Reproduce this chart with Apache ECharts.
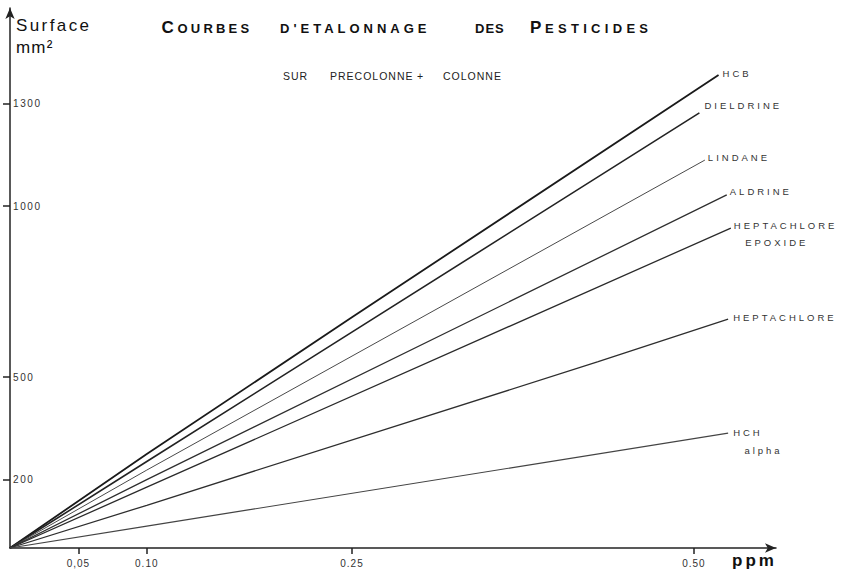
<!DOCTYPE html>
<html>
<head>
<meta charset="utf-8">
<script src="https://cdn.jsdelivr.net/npm/echarts@6/dist/echarts.min.js"></script>
<style>
html, body { margin: 0; padding: 0; background: #ffffff; }
#main { width: 844px; height: 575px; }
</style>
</head>
<body>
<div id="main"></div>
<script>
// ---------------- DATA ----------------
const hcb          = [[0, 0], [0.10, 275], [0.25, 675], [0.518, 1384]];
const dieldrine    = [[0, 0], [0.10, 253], [0.504, 1273]];
const lindane      = [[0, 0], [0.10, 228], [0.508, 1135]];
const aldrine      = [[0, 0], [0.10, 200], [0.524, 1033]];
const heptaEpoxide = [[0, 0], [0.10, 178], [0.527, 936]];
const heptachlore  = [[0, 0], [0.10, 125], [0.43, 545], [0.525, 670]];
const hchAlpha     = [[0, 0], [0.10, 64], [0.525, 336]];

const seriesNames  = ['HCB', 'DIELDRINE', 'LINDANE', 'ALDRINE', 'HEPTACHLORE EPOXIDE', 'HEPTACHLORE', 'HCH alpha'];
const seriesLabels = ['HCB', 'DIELDRINE', 'LINDANE', 'ALDRINE', 'HEPTACHLORE\n\u00a0\u00a0EPOXIDE', 'HEPTACHLORE', 'HCH\n\u00a0\u00a0alpha'];
const seriesData   = [hcb, dieldrine, lindane, aldrine, heptaEpoxide, heptachlore, hchAlpha];

const xTickValues = [0.05, 0.10, 0.25, 0.50];
const xTickLabels = ['0,05', '0.10', '0.25', '0.50'];
const yTickValues = [200, 500, 1000, 1300];
const yTickLabels = ['200', '500', '1000', '1300'];

const titleWords = ['C', 'OURBES', "D'ETALONNAGE", 'DES', 'P', 'ESTICIDES'];
const subtitleWords = ['SUR', 'PRECOLONNE', '+', 'COLONNE'];
const yAxisTitle = ['Surface', 'mm²'];
const xAxisTitle = 'ppm';

// ---------------- STYLE ----------------
const FONT = "'Liberation Sans', Arial, sans-serif";
// letter-spacing hooks: each text style gets a unique tiny fractional font size
const spacingRules = [];
function ts(size, spacing, extra) {
  const code = spacingRules.length + 1;
  const fs = +(size + code / 1000).toFixed(3);
  spacingRules.push([fs, spacing]);
  return Object.assign({ fontSize: fs, fontFamily: FONT, lineHeight: size, fontWeight: 'normal' }, extra || {});
}

const lineColors = ['#1a1a1a', '#222222', '#4a4a4a', '#2e2e2e', '#2a2a2a', '#2e2e2e', '#444444'];
const lineWidths = [1.8, 1.6, 1.0, 1.3, 1.3, 1.3, 1.1];
const labelOffsets = [[4, -1], [5, -7], [3, -3], [3, -3], [3, -11.5], [5, -2], [5, -10]];
const labelVAlign = ['middle', 'middle', 'middle', 'middle', 'top', 'middle', 'top'];
const labelLineHeights = [10, 10, 10, 10, 17, 10, 18];

const lineLabelStyle = ts(9.5, 3, { color: '#333' });
const yLabelStyle = ts(10, 1.6, { color: '#333' });
const xLabelStyle = ts(10, 1, { color: '#333' });

const bigT = ts(17, 0, { color: '#111', fontWeight: 'bold' });
const smT1 = ts(13, 3.2, { color: '#111', fontWeight: 'bold' });
const smT2 = ts(13, 4.0, { color: '#111', fontWeight: 'bold' });
const smT3 = ts(13, 1.0, { color: '#111', fontWeight: 'bold' });
const smT4 = ts(13, 4.3, { color: '#111', fontWeight: 'bold' });
const subT = ts(10.5, 1, { color: '#222' });
const surfT = ts(17, 2.4, { color: '#111' });
const mmT = ts(17, 1.2, { color: '#111' });
const ppmT = ts(17, 3, { color: '#111', fontWeight: 'bold' });

const titlePos = [[161.5, 18.9, bigT], [177.5, 22.3, smT1], [280, 22.3, smT2], [475, 22.3, smT3], [530, 18.9, bigT], [545, 22.3, smT4]];
const subPos = [[283, 70.5], [330, 70.5], [417, 70.5], [443, 70.5]];

// inject letter-spacing CSS
(function () {
  let css = '';
  spacingRules.forEach(([fs, sp]) => {
    css += '#main text[style*="' + fs + 'px"]{letter-spacing:' + sp + 'px;}\n';
  });
  const el = document.createElement('style');
  el.textContent = css;
  document.head.appendChild(el);
})();

function pick(values, labels, v) {
  for (let i = 0; i < values.length; i++) if (Math.abs(values[i] - v) < 1e-9) return labels[i];
  return '';
}

const titles = [];
titleWords.forEach((w, i) => {
  titles.push({ text: w, left: titlePos[i][0], top: titlePos[i][1], padding: 0, textStyle: titlePos[i][2] });
});
subtitleWords.forEach((w, i) => {
  titles.push({ text: w, left: subPos[i][0], top: subPos[i][1], padding: 0, textStyle: subT });
});
titles.push({ text: yAxisTitle[0], left: 16, top: 17.3, padding: 0, textStyle: surfT });
titles.push({ text: yAxisTitle[1], left: 16, top: 38.9, padding: 0, textStyle: mmT });
titles.push({ text: xAxisTitle, left: 732, top: 551.6, padding: 0, textStyle: ppmT });

const chart = echarts.init(document.getElementById('main'), null, { renderer: 'svg' });

const option = {
  backgroundColor: '#ffffff',
  animation: false,
  title: titles,
  grid: { left: 10, right: 68, top: 8, bottom: 27, containLabel: false },
  xAxis: {
    type: 'value', min: 0, max: 0.56,
    axisLine: { show: true, lineStyle: { color: '#222', width: 1.5 }, symbol: ['none', 'arrow'], symbolSize: [7, 11] },
    axisTick: { show: true, customValues: xTickValues, length: 6, lineStyle: { color: '#222', width: 1.5 } },
    axisLabel: Object.assign({ customValues: xTickValues, margin: 10, formatter: v => pick(xTickValues, xTickLabels, v) }, xLabelStyle),
    splitLine: { show: false }
  },
  yAxis: {
    type: 'value', min: 0, max: 1580,
    axisLine: { show: true, lineStyle: { color: '#222', width: 1.5 }, symbol: ['none', 'arrow'], symbolSize: [7, 11] },
    axisTick: { show: true, customValues: yTickValues, length: 7, lineStyle: { color: '#222', width: 1.5 } },
    axisLabel: Object.assign({ customValues: yTickValues, inside: true, margin: 3, formatter: v => pick(yTickValues, yTickLabels, v) }, yLabelStyle),
    splitLine: { show: false }
  },
  series: seriesData.map((d, i) => ({
    name: seriesNames[i],
    type: 'line',
    data: d,
    symbol: 'none',
    silent: true,
    clip: false,
    lineStyle: { color: lineColors[i], width: lineWidths[i] },
    emphasis: { disabled: true },
    endLabel: Object.assign({
      show: true,
      distance: 0,
      formatter: () => seriesLabels[i],
      align: 'left',
      verticalAlign: labelVAlign[i],
      offset: labelOffsets[i]
    }, lineLabelStyle, { lineHeight: labelLineHeights[i] })
  }))
};

chart.setOption(option);
</script>
</body>
</html>
